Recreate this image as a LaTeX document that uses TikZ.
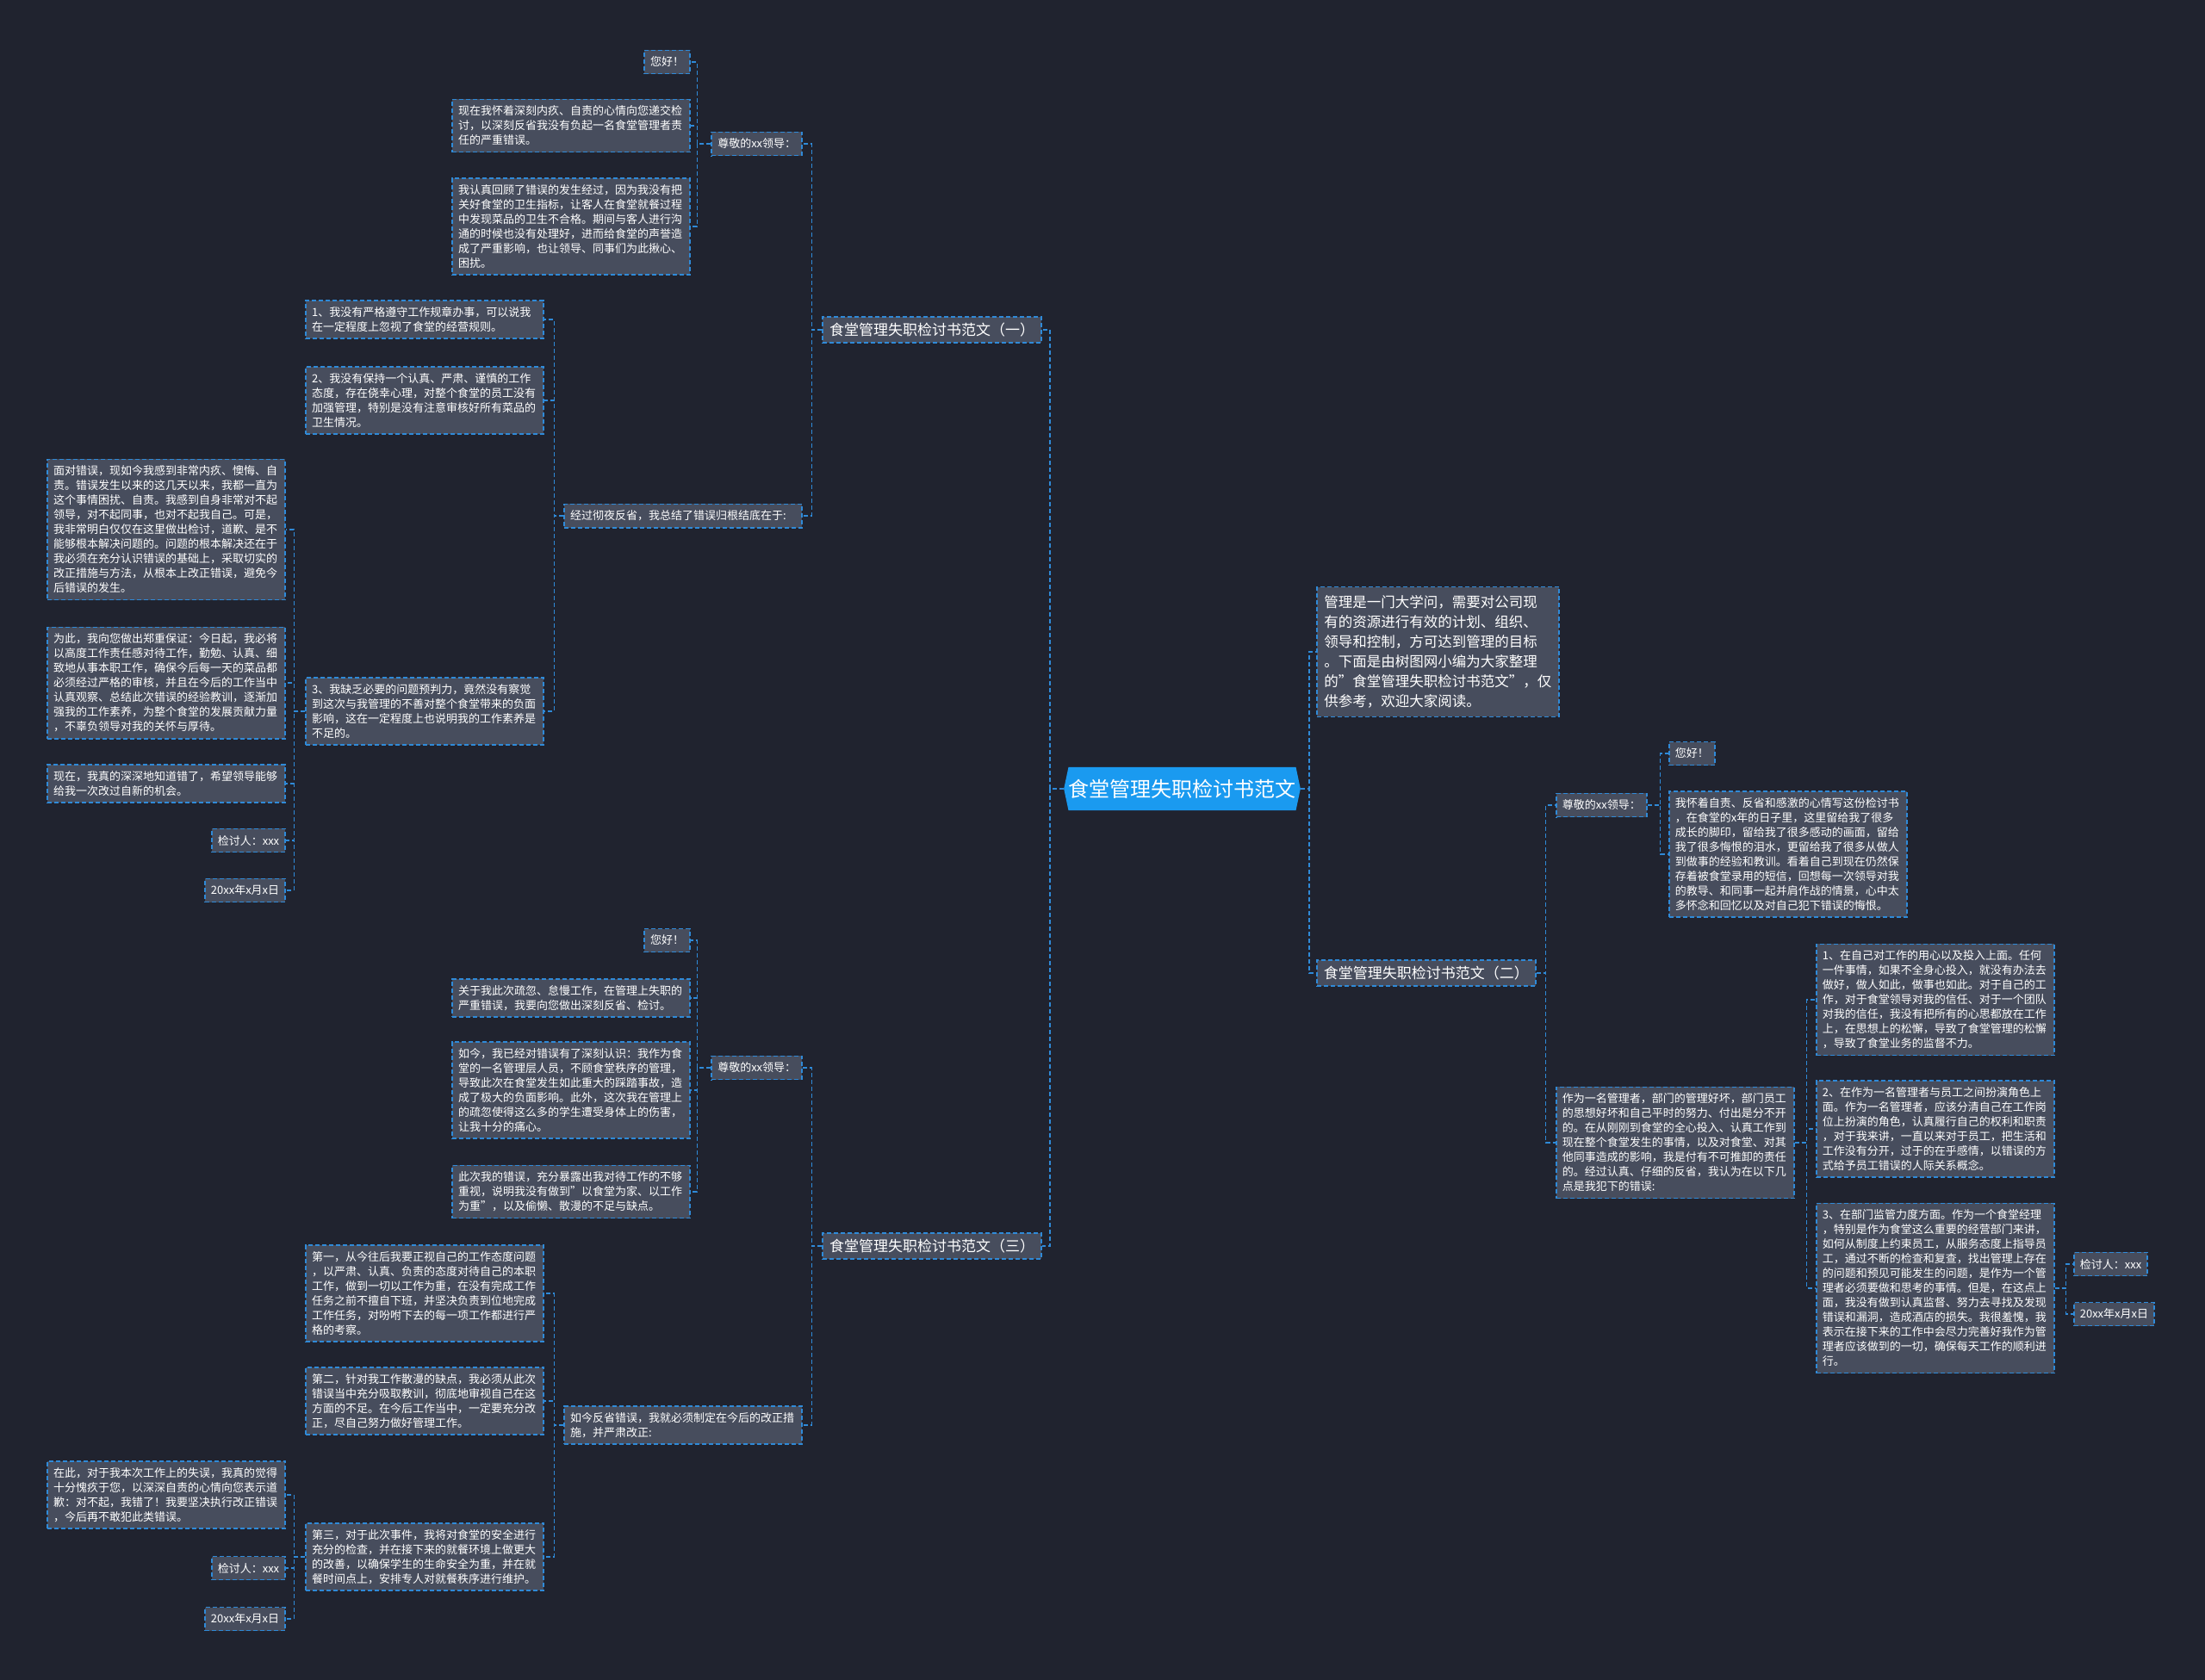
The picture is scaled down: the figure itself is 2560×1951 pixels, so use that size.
\documentclass[tikz,border=0pt]{standalone}
\usepackage{fontspec}
\setmainfont{Noto Sans CJK SC}
\usetikzlibrary{shapes.symbols}
\definecolor{bgc}{HTML}{20232F}
\definecolor{boxc}{HTML}{474D5D}
\definecolor{linec}{HTML}{2F8AD8}
\definecolor{cenc}{HTML}{1A9AF0}
\tikzset{
  leaf/.style={draw=linec, dash pattern=on 5pt off 3pt, line width=1.6pt, fill=boxc, text=white,
    font=\fontsize{13}{17}\selectfont, inner xsep=7pt, inner ysep=7.5pt, align=left},
  para/.style={leaf, text width=262pt},
  introbox/.style={leaf, font=\fontsize{16.5}{23}\selectfont, text width=264pt, inner xsep=8.5pt, inner ysep=10pt},
  branch/.style={leaf, font=\fontsize{17}{21}\selectfont, inner xsep=8pt, inner ysep=7pt},
  centre/.style={signal, signal to=west and east, signal pointer angle=156, fill=cenc, text=white,
    font=\fontsize{24}{28}\selectfont, inner xsep=0pt, inner ysep=14pt},
  conn/.style={draw=linec, line width=1.6pt, dash pattern=on 5pt off 3pt}
}
\begin{document}
\begin{tikzpicture}[x=1pt,y=-1pt]
\fill[bgc] (0,0) rectangle (2560,1951);
\useasboundingbox (0,0) rectangle (2560,1951);

% centre
\node[centre] (c) at (1372.5,916) {食堂管理失职检讨书范文};

% ---------------- branch 1 ----------------
\node[branch, anchor=east] (b1) at (1210,383) {食堂管理失职检讨书范文（一）};
\node[leaf, anchor=east] (a0) at (932,167) {尊敬的xx领导：};
\node[leaf, anchor=east] (a1) at (802,72) {您好！};
\node[para, anchor=east] (a2) at (802,146) {现在我怀着深刻内疚、自责的心情向您递交检\\讨，以深刻反省我没有负起一名食堂管理者责\\任的严重错误。};
\node[para, anchor=east] (a3) at (802,263) {我认真回顾了错误的发生经过，因为我没有把\\关好食堂的卫生指标，让客人在食堂就餐过程\\中发现菜品的卫生不合格。期间与客人进行沟\\通的时候也没有处理好，进而给食堂的声誉造\\成了严重影响，也让领导、同事们为此揪心、\\困扰。};
\node[para, anchor=east] (a4) at (932,599) {经过彻夜反省，我总结了错误归根结底在于:};
\node[para, anchor=east] (a41) at (632,371) {1、我没有严格遵守工作规章办事，可以说我\\在一定程度上忽视了食堂的经营规则。};
\node[para, anchor=east] (a42) at (632,465) {2、我没有保持一个认真、严肃、谨慎的工作\\态度，存在侥幸心理，对整个食堂的员工没有\\加强管理，特别是没有注意审核好所有菜品的\\卫生情况。};
\node[para, anchor=east] (a43) at (632,826) {3、我缺乏必要的问题预判力，竟然没有察觉\\到这次与我管理的不善对整个食堂带来的负面\\影响，这在一定程度上也说明我的工作素养是\\不足的。};
\node[para, anchor=east] (a431) at (332,615) {面对错误，现如今我感到非常内疚、懊悔、自\\责。错误发生以来的这几天以来，我都一直为\\这个事情困扰、自责。我感到自身非常对不起\\领导，对不起同事，也对不起我自己。可是，\\我非常明白仅仅在这里做出检讨，道歉、是不\\能够根本解决问题的。问题的根本解决还在于\\我必须在充分认识错误的基础上，采取切实的\\改正措施与方法，从根本上改正错误，避免今\\后错误的发生。};
\node[para, anchor=east] (a432) at (332,793) {为此，我向您做出郑重保证：今日起，我必将\\以高度工作责任感对待工作，勤勉、认真、细\\致地从事本职工作，确保今后每一天的菜品都\\必须经过严格的审核，并且在今后的工作当中\\认真观察、总结此次错误的经验教训，逐渐加\\强我的工作素养，为整个食堂的发展贡献力量\\，不辜负领导对我的关怀与厚待。};
\node[para, anchor=east] (a433) at (332,910) {现在，我真的深深地知道错了，希望领导能够\\给我一次改过自新的机会。};
\node[leaf, anchor=east] (a434) at (332,976) {检讨人：xxx};
\node[leaf, anchor=east] (a435) at (332,1034) {20xx年x月x日};

% ---------------- branch 3 ----------------
\node[branch, anchor=east] (b3) at (1210,1447) {食堂管理失职检讨书范文（三）};
\node[leaf, anchor=east] (e0) at (932,1240) {尊敬的xx领导：};
\node[leaf, anchor=east] (e1) at (802,1092) {您好！};
\node[para, anchor=east] (e2) at (802,1159) {关于我此次疏忽、怠慢工作，在管理上失职的\\严重错误，我要向您做出深刻反省、检讨。};
\node[para, anchor=east] (e3) at (802,1266) {如今，我已经对错误有了深刻认识：我作为食\\堂的一名管理层人员，不顾食堂秩序的管理，\\导致此次在食堂发生如此重大的踩踏事故，造\\成了极大的负面影响。此外，这次我在管理上\\的疏忽使得这么多的学生遭受身体上的伤害，\\让我十分的痛心。};
\node[para, anchor=east] (e4) at (802,1384) {此次我的错误，充分暴露出我对待工作的不够\\重视，说明我没有做到"以食堂为家、以工作\\为重"，以及偷懒、散漫的不足与缺点。};
\node[para, anchor=east] (e5) at (932,1655) {如今反省错误，我就必须制定在今后的改正措\\施，并严肃改正:};
\node[para, anchor=east] (e51) at (632,1502) {第一，从今往后我要正视自己的工作态度问题\\，以严肃、认真、负责的态度对待自己的本职\\工作，做到一切以工作为重，在没有完成工作\\任务之前不擅自下班，并坚决负责到位地完成\\工作任务，对吩咐下去的每一项工作都进行严\\格的考察。};
\node[para, anchor=east] (e52) at (632,1627) {第二，针对我工作散漫的缺点，我必须从此次\\错误当中充分吸取教训，彻底地审视自己在这\\方面的不足。在今后工作当中，一定要充分改\\正，尽自己努力做好管理工作。};
\node[para, anchor=east] (e53) at (632,1808) {第三，对于此次事件，我将对食堂的安全进行\\充分的检查，并在接下来的就餐环境上做更大\\的改善，以确保学生的生命安全为重，并在就\\餐时间点上，安排专人对就餐秩序进行维护。};
\node[para, anchor=east] (e531) at (332,1736) {在此，对于我本次工作上的失误，我真的觉得\\十分愧疚于您，以深深自责的心情向您表示道\\歉：对不起，我错了！我要坚决执行改正错误\\，今后再不敢犯此类错误。};
\node[leaf, anchor=east] (e532) at (332,1821) {检讨人：xxx};
\node[leaf, anchor=east] (e533) at (332,1880) {20xx年x月x日};

% ---------------- right side ----------------
\node[introbox, anchor=west] (intro) at (1528,757) {管理是一门大学问，需要对公司现\\有的资源进行有效的计划、组织、\\领导和控制，方可达到管理的目标\\。下面是由树图网小编为大家整理\\的"食堂管理失职检讨书范文"，仅\\供参考，欢迎大家阅读。};
\node[branch, anchor=west] (b2) at (1528,1130) {食堂管理失职检讨书范文（二）};
\node[leaf, anchor=west] (d0) at (1806,935) {尊敬的xx领导：};
\node[leaf, anchor=west] (d1) at (1937,875) {您好！};
\node[para, anchor=west] (d2) at (1937,992) {我怀着自责、反省和感激的心情写这份检讨书\\，在食堂的x年的日子里，这里留给我了很多\\成长的脚印，留给我了很多感动的画面，留给\\我了很多悔恨的泪水，更留给我了很多从做人\\到做事的经验和教训。看着自己到现在仍然保\\存着被食堂录用的短信，回想每一次领导对我\\的教导、和同事一起并肩作战的情景，心中太\\多怀念和回忆以及对自己犯下错误的悔恨。};
\node[para, anchor=west] (d3) at (1806,1327) {作为一名管理者，部门的管理好坏，部门员工\\的思想好坏和自己平时的努力、付出是分不开\\的。在从刚刚到食堂的全心投入、认真工作到\\现在整个食堂发生的事情，以及对食堂、对其\\他同事造成的影响，我是付有不可推卸的责任\\的。经过认真、仔细的反省，我认为在以下几\\点是我犯下的错误:};
\node[para, anchor=west] (d31) at (2108,1161) {1、在自己对工作的用心以及投入上面。任何\\一件事情，如果不全身心投入，就没有办法去\\做好，做人如此，做事也如此。对于自己的工\\作，对于食堂领导对我的信任、对于一个团队\\对我的信任，我没有把所有的心思都放在工作\\上，在思想上的松懈，导致了食堂管理的松懈\\，导致了食堂业务的监督不力。};
\node[para, anchor=west] (d32) at (2108,1311) {2、在作为一名管理者与员工之间扮演角色上\\面。作为一名管理者，应该分清自己在工作岗\\位上扮演的角色，认真履行自己的权利和职责\\，对于我来讲，一直以来对于员工，把生活和\\工作没有分开，过于的在乎感情，以错误的方\\式给予员工错误的人际关系概念。};
\node[para, anchor=west] (d33) at (2108,1496) {3、在部门监管力度方面。作为一个食堂经理\\，特别是作为食堂这么重要的经营部门来讲，\\如何从制度上约束员工，从服务态度上指导员\\工，通过不断的检查和复查，找出管理上存在\\的问题和预见可能发生的问题，是作为一个管\\理者必须要做和思考的事情。但是，在这点上\\面，我没有做到认真监督、努力去寻找及发现\\错误和漏洞，造成酒店的损失。我很羞愧，我\\表示在接下来的工作中会尽力完善好我作为管\\理者应该做到的一切，确保每天工作的顺利进\\行。};
\node[leaf, anchor=west] (d331) at (2407,1468) {检讨人：xxx};
\node[leaf, anchor=west] (d332) at (2407,1526) {20xx年x月x日};

% ---------------- connectors ----------------
\draw[conn] (c.west) -- ++(-16,0) |- (b1.east);
\draw[conn] (c.west) -- ++(-16,0) |- (b3.east);
\draw[conn] (c.east) -- ++(10,0) |- (intro.west);
\draw[conn] (c.east) -- ++(10,0) |- (b2.west);

\draw[conn] (b1.west) -- ++(-12,0) |- (a0.east);
\draw[conn] (b1.west) -- ++(-12,0) |- (a4.east);
\foreach \n in {a1,a2,a3} \draw[conn] (a0.west) -- ++(-16,0) |- (\n.east);
\foreach \n in {a41,a42,a43} \draw[conn] (a4.west) -- ++(-11,0) |- (\n.east);
\foreach \n in {a431,a432,a433,a434,a435} \draw[conn] (a43.west) -- ++(-13,0) |- (\n.east);

\draw[conn] (b3.west) -- ++(-12,0) |- (e0.east);
\draw[conn] (b3.west) -- ++(-12,0) |- (e5.east);
\foreach \n in {e1,e2,e3,e4} \draw[conn] (e0.west) -- ++(-16,0) |- (\n.east);
\foreach \n in {e51,e52,e53} \draw[conn] (e5.west) -- ++(-11,0) |- (\n.east);
\foreach \n in {e531,e532,e533} \draw[conn] (e53.west) -- ++(-13,0) |- (\n.east);

\draw[conn] (b2.east) -- ++(11,0) |- (d0.west);
\draw[conn] (b2.east) -- ++(11,0) |- (d3.west);
\foreach \n in {d1,d2} \draw[conn] (d0.east) -- ++(15,0) |- (\n.west);
\foreach \n in {d31,d32,d33} \draw[conn] (d3.east) -- ++(14,0) |- (\n.west);
\foreach \n in {d331,d332} \draw[conn] (d33.east) -- ++(13,0) |- (\n.west);
\end{tikzpicture}
\end{document}
